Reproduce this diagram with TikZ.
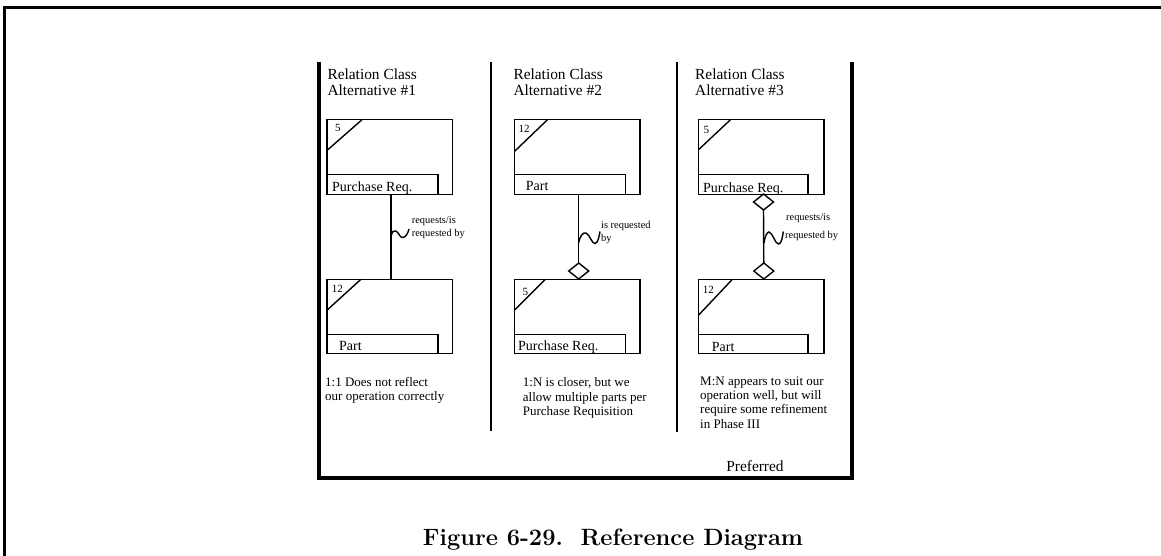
\documentclass[tikz,border=0pt]{standalone}
\usepackage{fontspec}
\usetikzlibrary{shapes.geometric}
\newfontfamily\tnr{Liberation Serif}
\begin{document}
\begin{tikzpicture}[x=1pt,y=-1pt,
 ent/.style={draw, line width=1.4pt, minimum width=125.5pt, minimum height=74.5pt, inner sep=0pt, outer sep=0pt},
 lab/.style={draw, line width=1.4pt, minimum height=19.5pt, inner sep=0pt, outer sep=0pt, anchor=south west},
 dia/.style={diamond, draw, line width=1.4pt, minimum width=20pt, minimum height=16pt, inner sep=0pt, outer sep=0pt, fill=white},
 hd/.style={font=\tnr\fontsize{15.4}{16}\selectfont, anchor=base west, inner sep=0pt},
 nt/.style={font=\tnr\fontsize{13}{14}\selectfont, anchor=base west, inner sep=0pt},
 bx/.style={font=\tnr\fontsize{14}{15}\selectfont, anchor=base west, inner sep=0pt},
 sm/.style={font=\tnr\fontsize{10.4}{12}\selectfont, anchor=base west, inner sep=0pt},
 num/.style={font=\tnr\fontsize{11}{12}\selectfont, anchor=base west, inner sep=0pt},
 wire/.style={line width=1.4pt},
 heavy/.style={line width=4.3pt, line join=miter},
]
\useasboundingbox (0,0) rectangle (1161,556);
% outer frame
\draw[line width=3pt] (4.2,556) -- (4.2,8) -- (1161,8);
% panel
\draw[heavy] (318.8,62) -- (318.8,478) -- (852,478) -- (852,62);
\draw[line width=2.5pt] (491,62) -- (491,431);
\draw[line width=2.5pt] (677,62) -- (677,432);

% ---------- column 1 ----------
\node[hd] (h1a) at (327.3,79.5) {Relation Class};
\node[hd] (h1b) at (327.3,96) {Alternative \#1};
\node[ent] (p1) at (389.7,157) {};
\node[lab, minimum width=111pt] (p1l) at (p1.south west) {};
\draw[wire] (p1.north west) ++(0,30.7) -- ++(35,-30.7);
\node[num] (p1n) at (335,131.5) {5};
\node[bx] (p1t) at (332,191.5) {Purchase Req.};
\node[ent] (q1) at (389.7,316.5) {};
\node[lab, minimum width=111pt] (q1l) at (q1.south west) {};
\draw[wire] (q1.north west) ++(0,31) -- ++(34,-31);
\node[num] (q1n) at (331.7,292.3) {12};
\node[bx] (q1t) at (339,350.7) {Part};
\draw[wire] ([xshift=1.3pt]p1.south) -- ([xshift=1.3pt]q1.north);
\draw[wire] (391,237) .. controls (392,231) and (394,230) .. (396,231) .. controls (399,233) and (400,238) .. (403,237.5) .. controls (406,237) and (408,233) .. (409,229);
\node[sm] (r1a) at (411.7,223) {requests/is};
\node[sm] (r1b) at (411.7,236.5) {requested by};
\node[nt] (n1a) at (325,386) {1:1 Does not reflect};
\node[nt] (n1b) at (325,400.3) {our operation correctly};

% ---------- column 2 ----------
\node[hd] (h2a) at (513.3,79.5) {Relation Class};
\node[hd] (h2b) at (513.3,96) {Alternative \#2};
\node[ent] (p2) at (577.2,157) {};
\node[lab, minimum width=111pt] (p2l) at (p2.south west) {};
\draw[wire] (p2.north west) ++(0,31.7) -- ++(33,-31.7);
\node[num] (p2n) at (518.3,132.7) {12};
\node[bx] (p2t) at (525.7,191) {Part};
\node[ent] (q2) at (577.2,316.5) {};
\node[lab, minimum width=111pt] (q2l) at (q2.south west) {};
\draw[wire] (q2.north west) ++(0,31) -- ++(31,-31);
\node[num] (q2n) at (522.3,295) {5};
\node[bx] (q2t) at (518,350.7) {Purchase Req.};
\node[dia] (d2) at (578.7,271) {};
\draw[wire] ([xshift=1.5pt]p2.south) -- (d2.north);
\draw[wire] (578.5,243) .. controls (580,236) and (583,232) .. (586,233) .. controls (590,235) and (592,244) .. (595,243.5) .. controls (598,243) and (599,237) .. (600,231.5);
\node[sm] (r2a) at (601,228.3) {is requested};
\node[sm] (r2b) at (601,241) {by};
\node[nt] (n2a) at (522.7,386.7) {1:N is closer, but we};
\node[nt] (n2b) at (522.7,401) {allow multiple parts per};
\node[nt] (n2c) at (522.7,415.3) {Purchase Requisition};

% ---------- column 3 ----------
\node[hd] (h3a) at (695,79.5) {Relation Class};
\node[hd] (h3b) at (695,96) {Alternative \#3};
\node[ent] (p3) at (761.2,157) {};
\node[lab, minimum width=109.5pt] (p3l) at (p3.south west) {};
\draw[wire] (p3.north west) ++(0,30) -- ++(32,-30);
\node[num] (p3n) at (703.3,133.3) {5};
\node[bx] (p3t) at (703,192.5) {Purchase Req.};
\node[ent] (q3) at (761.2,316.5) {};
\node[lab, minimum width=109.5pt] (q3l) at (q3.south west) {};
\draw[wire] (q3.north west) ++(0,36) -- ++(34,-36);
\node[num] (q3n) at (702.7,293.3) {12};
\node[bx] (q3t) at (711.7,351.5) {Part};
\node[dia] (d3a) at (763.5,202) {};
\node[dia] (d3b) at (763.8,271) {};
\draw[wire] (d3a.south) -- (d3b.north);
\draw[wire] (764,243) .. controls (765,236) and (767,232) .. (769,232) .. controls (773,233) and (775,244) .. (778.5,244) .. controls (781,244) and (782.5,238) .. (783.3,231.5);
\node[sm] (r3a) at (786,220) {requests/is};
\node[sm] (r3b) at (785,238.5) {requested by};
\node[nt] (n3a) at (700,385.3) {M:N appears to suit our};
\node[nt] (n3b) at (700,399.6) {operation well, but will};
\node[nt] (n3c) at (700,413.9) {require some refinement};
\node[nt] (n3d) at (700,428.2) {in Phase III};
\node[font=\tnr\fontsize{15.4}{16}\selectfont, anchor=base, inner sep=0pt] (pref) at (755,471) {Preferred};

% caption
\node[font=\bfseries\fontsize{23.6}{26}\selectfont, anchor=base, inner sep=0pt] (cap) at (613,545) {Figure 6-29.\ \ Reference Diagram};
\end{tikzpicture}
\end{document}
